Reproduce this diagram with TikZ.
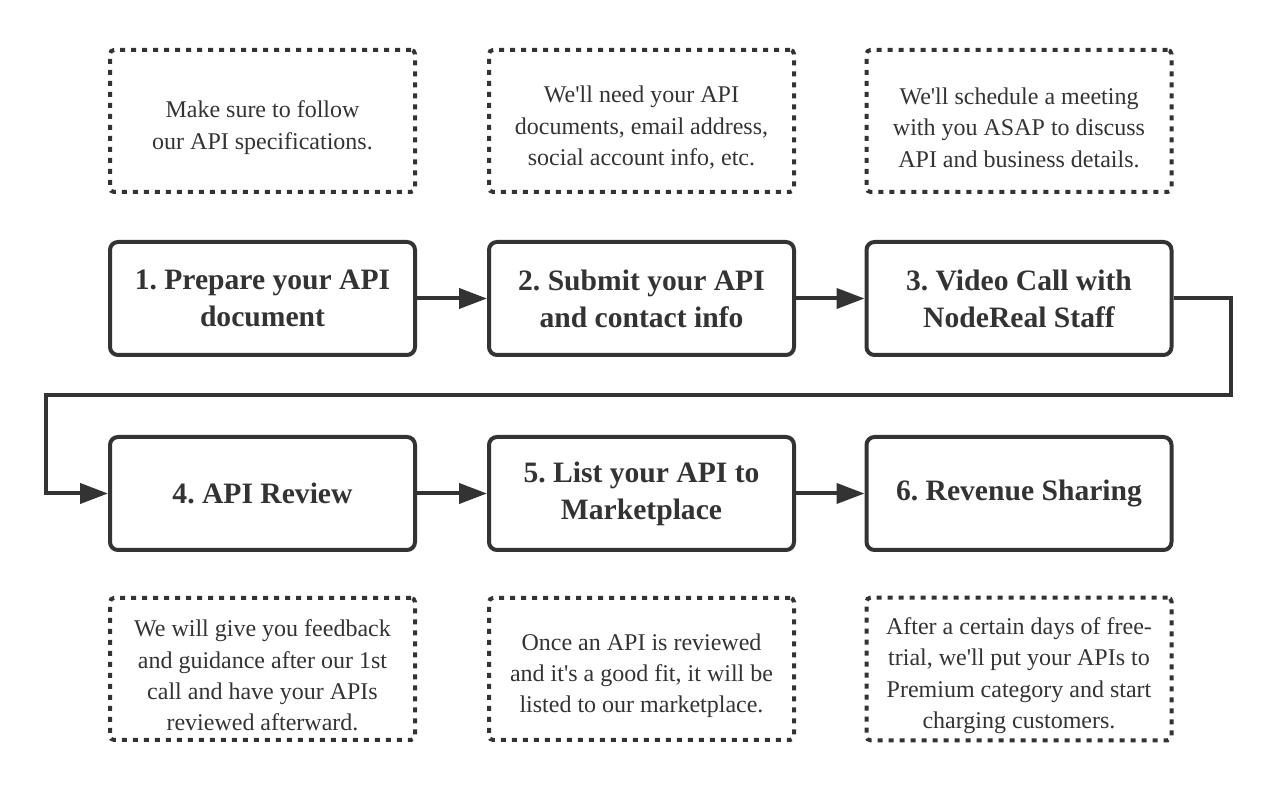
\documentclass[tikz,border=0pt]{standalone}
\usepackage{fontspec}
\setmainfont{Liberation Serif}
\usepackage{tikz}
\usetikzlibrary{positioning,calc,arrows.meta}

\definecolor{ink}{HTML}{333333}
\newcommand{\apos}{\textquotesingle}
\newcommand{\lift}{\rule{0pt}{15pt}}
\frenchspacing

\tikzset{
    stepbox/.style={draw=ink, line width=2pt, rounded corners=4pt,
        minimum width=152.5pt, minimum height=56.5pt, align=center,
        text=ink, font=\fontsize{14.8}{18.5}\selectfont\bfseries},
    notebox/.style={draw=ink, line width=2pt, rounded corners=2pt,
        dash pattern=on 2.5pt off 3pt,
        minimum width=152.5pt, minimum height=71pt, align=center,
        text=ink, font=\fontsize{12}{15.7}\selectfont},
    flow/.style={draw=ink, line width=2pt, -{Triangle[length=14pt,width=10pt]}}
}

\begin{document}
\begin{tikzpicture}[x=0.5pt, y=-0.5pt]
    \useasboundingbox (0,0) rectangle (1282,790);

    % notes above
    \node[notebox] (n1) at (262.5,121) {\lift Make sure to follow\\our API specifications.};
    \node[notebox] (n2) at (641.5,121) {\lift We\apos ll need your API\\documents, email address,\\social account info, etc.};
    \node[notebox] (n3) at (1019,121) {\lift We\apos ll schedule a meeting\\with you ASAP to discuss\\API and business details.};

    % steps
    \node[stepbox] (s1) at (262.5,298.5) {1. Prepare your API\\document};
    \node[stepbox] (s2) at (641.5,298.5) {2. Submit your API\\and contact info};
    \node[stepbox] (s3) at (1019,298.5) {3. Video Call with\\NodeReal Staff};
    \node[stepbox] (s4) at (262.5,493.5) {4. API Review};
    \node[stepbox] (s5) at (641.5,493.5) {5. List your API to\\Marketplace};
    \node[stepbox] (s6) at (1019,493.5) {6. Revenue Sharing};

    % notes below
    \node[notebox] (n4) at (262.5,669) {\lift We will give you feedback\\and guidance after our 1st\\call and have your APIs\\reviewed afterward.};
    \node[notebox] (n5) at (641.5,669) {\lift Once an API is reviewed\\and it\apos s a good fit, it will be\\listed to our marketplace.};
    \node[notebox] (n6) at (1019,669) {\lift After a certain days of free-\\trial, we\apos ll put your APIs to\\Premium category and start\\charging customers.};

    % connectors
    \draw[flow] (s1) -- (s2);
    \draw[flow] (s2) -- (s3);
    \coordinate (turn) at (1231,395);
    \draw[flow] (s3.east) -| (turn) -| ($(s4.west)+(-62,0)$) -- (s4.west);
    \draw[flow] (s4) -- (s5);
    \draw[flow] (s5) -- (s6);
\end{tikzpicture}
\end{document}
